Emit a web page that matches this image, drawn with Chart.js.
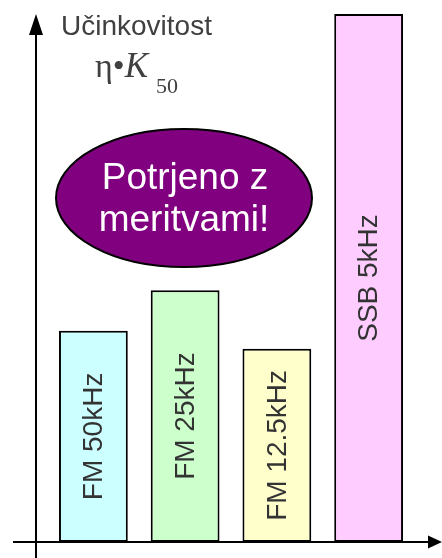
<!DOCTYPE html>
<html lang="sl">
<head>
    <meta charset="UTF-8">
    <title>Učinkovitost</title>
    <script src="https://cdn.jsdelivr.net/npm/chart.js"></script>
    <style>
        body {
            margin: 0;
            padding: 0;
            background: #fff;
        }
        canvas {
            display: block;
        }
    </style>
</head>
<body>
<canvas id="ucinkovitostChart" width="442" height="558"></canvas>

<script>
    // podatki
    const kategorije = ['FM 50kHz', 'FM 25kHz', 'FM 12.5kHz', 'SSB 5kHz'];
    const vrednosti = [40, 47.7, 36.6, 100];
    const barve = ['#CCFFFF', '#CCFFCC', '#FFFFCC', '#FFCCFF'];

    const osNaslov = 'Učinkovitost';
    const oblacekVrstice = ['Potrjeno z', 'meritvami!'];

    // osi s puščicami, napisi v stolpcih, oblaček
    const risbaPlugin = {
        id: 'risba',
        afterDatasetsDraw(chart) {
            const ctx = chart.ctx;
            const y0 = chart.scales.y.getPixelForValue(0);
            const osX = 36;

            // napisi v stolpcih
            const meta = chart.getDatasetMeta(0);
            ctx.save();
            ctx.fillStyle = '#333333';
            ctx.font = '28px "Liberation Sans", Arial, sans-serif';
            ctx.textAlign = 'center';
            ctx.textBaseline = 'middle';
            meta.data.forEach((bar, i) => {
                const cy = (bar.y + bar.base) / 2;
                ctx.save();
                ctx.translate(bar.x + 1, cy);
                ctx.rotate(-Math.PI / 2);
                ctx.fillText(kategorije[i], 0, 0);
                ctx.restore();
            });
            ctx.restore();

            // osi
            ctx.save();
            ctx.strokeStyle = '#000';
            ctx.fillStyle = '#000';
            ctx.lineWidth = 2;
            ctx.beginPath();
            ctx.moveTo(13, y0);
            ctx.lineTo(430, y0);
            ctx.moveTo(osX, 558);
            ctx.lineTo(osX, 33);
            ctx.stroke();
            // puščica x
            ctx.beginPath();
            ctx.moveTo(442, y0);
            ctx.lineTo(428, y0 - 6.5);
            ctx.lineTo(428, y0 + 6.5);
            ctx.closePath();
            ctx.fill();
            // puščica y
            ctx.beginPath();
            ctx.moveTo(osX, 14);
            ctx.lineTo(osX - 7, 35);
            ctx.lineTo(osX + 7, 35);
            ctx.closePath();
            ctx.fill();
            ctx.restore();

            // naslov osi
            ctx.save();
            ctx.fillStyle = '#404040';
            ctx.font = '28px "Liberation Sans", Arial, sans-serif';
            ctx.textBaseline = 'alphabetic';
            ctx.fillText(osNaslov, 61, 35);
            ctx.font = '34px "Liberation Serif", "Times New Roman", serif';
            ctx.fillText('η•', 95, 77);
            const w = ctx.measureText('η•').width;
            ctx.font = 'italic 35px "Liberation Serif", "Times New Roman", serif';
            ctx.fillText('K', 95 + w, 77);
            ctx.font = '22px "Liberation Serif", "Times New Roman", serif';
            ctx.fillText('50', 156, 93);
            ctx.restore();

            // oblaček
            ctx.save();
            ctx.beginPath();
            ctx.ellipse(184, 198, 128, 69, 0, 0, Math.PI * 2);
            ctx.fillStyle = '#800080';
            ctx.fill();
            ctx.lineWidth = 2;
            ctx.strokeStyle = '#000';
            ctx.stroke();
            ctx.fillStyle = '#fff';
            ctx.font = '37px "Liberation Sans", Arial, sans-serif';
            ctx.textAlign = 'center';
            ctx.textBaseline = 'alphabetic';
            ctx.fillText(oblacekVrstice[0], 185, 189);
            ctx.fillText(oblacekVrstice[1], 184, 231);
            ctx.restore();
        }
    };

    const config = {
        type: 'bar',
        data: {
            labels: kategorije,
            datasets: [{
                data: vrednosti,
                backgroundColor: barve,
                borderColor: '#000',
                borderWidth: 2,
                borderSkipped: false,
                categoryPercentage: 1,
                barPercentage: 0.75
            }]
        },
        options: {
            responsive: false,
            animation: false,
            devicePixelRatio: 1,
            layout: {
                padding: { left: 47.5, right: 27.5, top: 14, bottom: 16 }
            },
            plugins: {
                legend: { display: false },
                title: { display: false },
                tooltip: { enabled: false }
            },
            scales: {
                x: { display: false },
                y: { display: false, min: 0, max: 100 }
            }
        },
        plugins: [risbaPlugin]
    };

    const ctx = document.getElementById('ucinkovitostChart').getContext('2d');
    new Chart(ctx, config);
</script>
</body>
</html>
